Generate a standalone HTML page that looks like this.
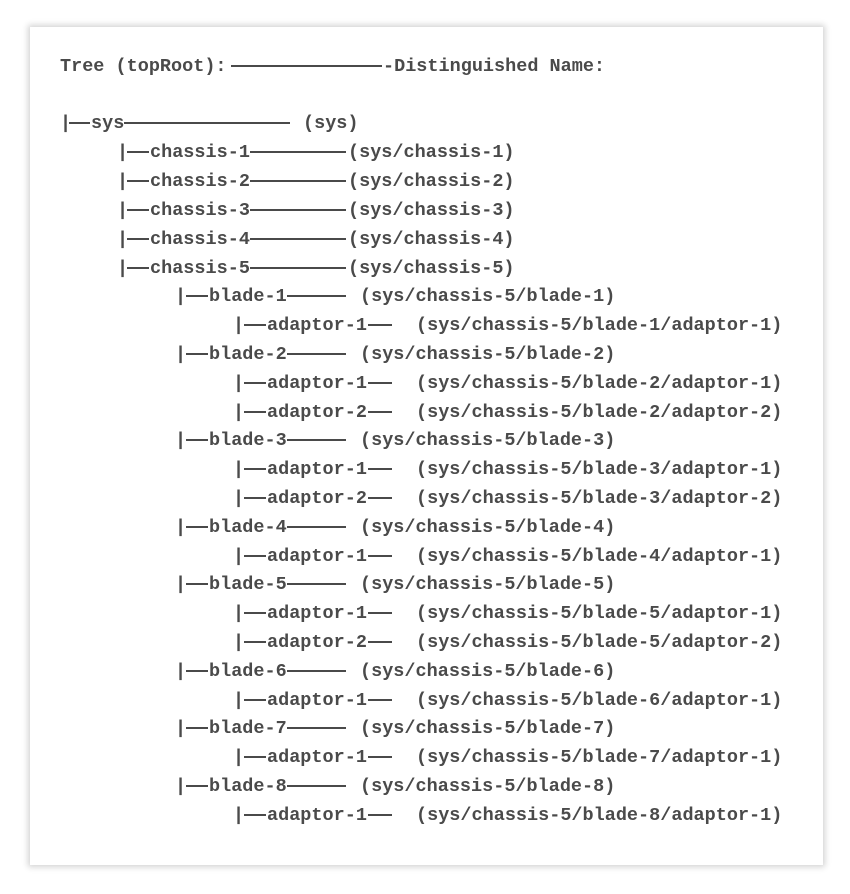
<!DOCTYPE html>
<html><head><meta charset="utf-8"><style>
html,body{margin:0;padding:0;background:#fff;width:850px;height:894px;overflow:hidden}
.card{position:absolute;left:30px;top:27px;width:793px;height:838px;background:#fff;box-shadow:0 0 6px 2px rgba(0,0,0,0.18)}
.r{position:absolute;left:0;height:22px;width:850px;font-family:"Liberation Mono","Courier New",monospace;font-weight:bold;font-size:18.5px;line-height:22px;color:#4a4a4a;white-space:pre}
.r span{position:absolute;top:0}
.r i{position:absolute;top:9px;height:2px;background:#4a4a4a}
</style></head><body>
<div class="card"></div>

<div class="r" style="top:56px"><span style="left:60px">Tree (topRoot):</span><i style="left:231px;width:151px"></i><span style="left:383px">-Distinguished Name:</span></div>

<div class="r" style="top:113px"><span style="left:60px">|</span><i style="left:69px;width:21px"></i><span style="left:91px">sys</span><i style="left:124px;width:166px"></i><span style="left:303px">(sys)</span></div>

<div class="r" style="top:142px"><span style="left:117px">|</span><i style="left:127px;width:22px"></i><span style="left:150px">chassis-1</span><i style="left:250px;width:96px"></i><span style="left:348px">(sys/chassis-1)</span></div>
<div class="r" style="top:171px"><span style="left:117px">|</span><i style="left:127px;width:22px"></i><span style="left:150px">chassis-2</span><i style="left:250px;width:96px"></i><span style="left:348px">(sys/chassis-2)</span></div>
<div class="r" style="top:200px"><span style="left:117px">|</span><i style="left:127px;width:22px"></i><span style="left:150px">chassis-3</span><i style="left:250px;width:96px"></i><span style="left:348px">(sys/chassis-3)</span></div>
<div class="r" style="top:229px"><span style="left:117px">|</span><i style="left:127px;width:22px"></i><span style="left:150px">chassis-4</span><i style="left:250px;width:96px"></i><span style="left:348px">(sys/chassis-4)</span></div>
<div class="r" style="top:258px"><span style="left:117px">|</span><i style="left:127px;width:22px"></i><span style="left:150px">chassis-5</span><i style="left:250px;width:96px"></i><span style="left:348px">(sys/chassis-5)</span></div>

<div class="r" style="top:286px"><span style="left:175px">|</span><i style="left:186px;width:22px"></i><span style="left:209px">blade-1</span><i style="left:287px;width:59px"></i><span style="left:360px">(sys/chassis-5/blade-1)</span></div>
<div class="r" style="top:315px"><span style="left:233px">|</span><i style="left:244px;width:22px"></i><span style="left:267px">adaptor-1</span><i style="left:368px;width:24px"></i><span style="left:416px">(sys/chassis-5/blade-1/adaptor-1)</span></div>

<div class="r" style="top:344px"><span style="left:175px">|</span><i style="left:186px;width:22px"></i><span style="left:209px">blade-2</span><i style="left:287px;width:59px"></i><span style="left:360px">(sys/chassis-5/blade-2)</span></div>
<div class="r" style="top:373px"><span style="left:233px">|</span><i style="left:244px;width:22px"></i><span style="left:267px">adaptor-1</span><i style="left:368px;width:24px"></i><span style="left:416px">(sys/chassis-5/blade-2/adaptor-1)</span></div>
<div class="r" style="top:402px"><span style="left:233px">|</span><i style="left:244px;width:22px"></i><span style="left:267px">adaptor-2</span><i style="left:368px;width:24px"></i><span style="left:416px">(sys/chassis-5/blade-2/adaptor-2)</span></div>

<div class="r" style="top:430px"><span style="left:175px">|</span><i style="left:186px;width:22px"></i><span style="left:209px">blade-3</span><i style="left:287px;width:59px"></i><span style="left:360px">(sys/chassis-5/blade-3)</span></div>
<div class="r" style="top:459px"><span style="left:233px">|</span><i style="left:244px;width:22px"></i><span style="left:267px">adaptor-1</span><i style="left:368px;width:24px"></i><span style="left:416px">(sys/chassis-5/blade-3/adaptor-1)</span></div>
<div class="r" style="top:488px"><span style="left:233px">|</span><i style="left:244px;width:22px"></i><span style="left:267px">adaptor-2</span><i style="left:368px;width:24px"></i><span style="left:416px">(sys/chassis-5/blade-3/adaptor-2)</span></div>

<div class="r" style="top:517px"><span style="left:175px">|</span><i style="left:186px;width:22px"></i><span style="left:209px">blade-4</span><i style="left:287px;width:59px"></i><span style="left:360px">(sys/chassis-5/blade-4)</span></div>
<div class="r" style="top:546px"><span style="left:233px">|</span><i style="left:244px;width:22px"></i><span style="left:267px">adaptor-1</span><i style="left:368px;width:24px"></i><span style="left:416px">(sys/chassis-5/blade-4/adaptor-1)</span></div>

<div class="r" style="top:574px"><span style="left:175px">|</span><i style="left:186px;width:22px"></i><span style="left:209px">blade-5</span><i style="left:287px;width:59px"></i><span style="left:360px">(sys/chassis-5/blade-5)</span></div>
<div class="r" style="top:603px"><span style="left:233px">|</span><i style="left:244px;width:22px"></i><span style="left:267px">adaptor-1</span><i style="left:368px;width:24px"></i><span style="left:416px">(sys/chassis-5/blade-5/adaptor-1)</span></div>
<div class="r" style="top:632px"><span style="left:233px">|</span><i style="left:244px;width:22px"></i><span style="left:267px">adaptor-2</span><i style="left:368px;width:24px"></i><span style="left:416px">(sys/chassis-5/blade-5/adaptor-2)</span></div>

<div class="r" style="top:661px"><span style="left:175px">|</span><i style="left:186px;width:22px"></i><span style="left:209px">blade-6</span><i style="left:287px;width:59px"></i><span style="left:360px">(sys/chassis-5/blade-6)</span></div>
<div class="r" style="top:690px"><span style="left:233px">|</span><i style="left:244px;width:22px"></i><span style="left:267px">adaptor-1</span><i style="left:368px;width:24px"></i><span style="left:416px">(sys/chassis-5/blade-6/adaptor-1)</span></div>

<div class="r" style="top:718px"><span style="left:175px">|</span><i style="left:186px;width:22px"></i><span style="left:209px">blade-7</span><i style="left:287px;width:59px"></i><span style="left:360px">(sys/chassis-5/blade-7)</span></div>
<div class="r" style="top:747px"><span style="left:233px">|</span><i style="left:244px;width:22px"></i><span style="left:267px">adaptor-1</span><i style="left:368px;width:24px"></i><span style="left:416px">(sys/chassis-5/blade-7/adaptor-1)</span></div>

<div class="r" style="top:776px"><span style="left:175px">|</span><i style="left:186px;width:22px"></i><span style="left:209px">blade-8</span><i style="left:287px;width:59px"></i><span style="left:360px">(sys/chassis-5/blade-8)</span></div>
<div class="r" style="top:805px"><span style="left:233px">|</span><i style="left:244px;width:22px"></i><span style="left:267px">adaptor-1</span><i style="left:368px;width:24px"></i><span style="left:416px">(sys/chassis-5/blade-8/adaptor-1)</span></div>
</body></html>
